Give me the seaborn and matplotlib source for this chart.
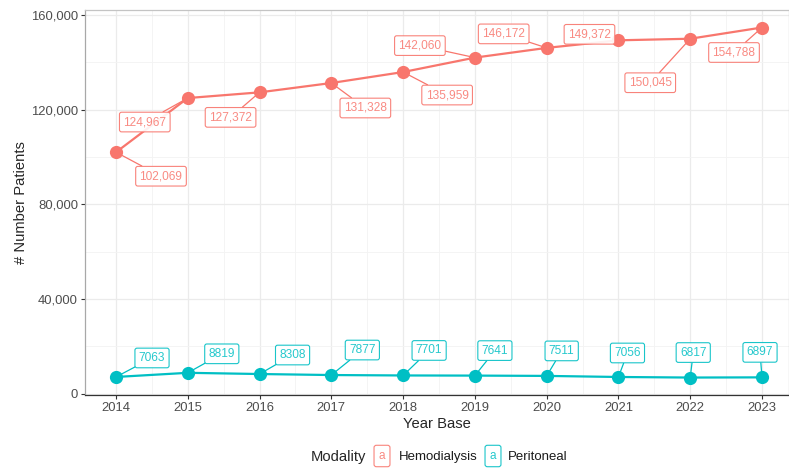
import pandas as pd
import matplotlib.pyplot as plt
import seaborn as sns
from matplotlib.ticker import FuncFormatter, MultipleLocator

# data
years = [2014, 2015, 2016, 2017, 2018, 2019, 2020, 2021, 2022, 2023]
hemodialysis = [102069, 124967, 127372, 131328, 135959, 142060, 146172, 149372, 150045, 154788]
peritoneal = [7063, 8819, 8308, 7877, 7701, 7641, 7511, 7056, 6817, 6897]
modalities = ["Hemodialysis", "Peritoneal"]

colors = {"Hemodialysis": "#F8766D", "Peritoneal": "#00BFC4"}

# label offsets (pixels) roughly like the repelled labels in the original
hemo_offsets = [(45, -24), (-43, -24), (-29, -25), (34, -25), (44, -23),
                (-55, 12), (-43, 14), (-29, 6), (-40, -44), (-28, -25)]
peri_offsets = [(36, 19), (34, 19), (33, 19), (31, 25), (26, 25),
                (20, 25), (15, 25), (9, 24), (3, 25), (-2, 25)]

df = pd.DataFrame({
    "year": years * 2,
    "patients": hemodialysis + peritoneal,
    "modality": ["Hemodialysis"] * len(years) + ["Peritoneal"] * len(years),
})

sns.set_theme(style="white")
plt.rcParams["font.family"] = ["Liberation Sans", "DejaVu Sans"]

fig = plt.figure(figsize=(7.89, 4.71), dpi=100)
ax = fig.add_axes([85 / 789, 76 / 471, 704 / 789, 385 / 471])

sns.lineplot(
    data=df, x="year", y="patients", hue="modality",
    palette=colors, marker="o", markersize=9.5, markeredgewidth=0,
    linewidth=1.6, legend=False, ax=ax, zorder=3,
)

# value labels
for mod, vals, offs in [("Hemodialysis", hemodialysis, hemo_offsets),
                        ("Peritoneal", peritoneal, peri_offsets)]:
    c = colors[mod]
    for yr, v, (dx, dy) in zip(years, vals, offs):
        txt = f"{v:,}" if mod == "Hemodialysis" else str(v)
        ax.annotate(
            txt, xy=(yr, v), xytext=(dx, dy), textcoords="offset pixels",
            ha="center", va="center", fontsize=8.6, color=c, alpha=0.85,
            bbox=dict(boxstyle="round,pad=0.32,rounding_size=0.18",
                      fc="white", ec=c, lw=0.8, alpha=0.9),
            arrowprops=dict(arrowstyle="-", color=c, lw=0.9, shrinkA=0, shrinkB=0),
            zorder=4,
        )

ax.set_xlim(2013.568, 2023.376)
ax.set_ylim(-560, 162186)
ax.xaxis.set_major_locator(MultipleLocator(1))
ax.xaxis.set_minor_locator(MultipleLocator(0.5))
ax.yaxis.set_major_locator(MultipleLocator(40000))
ax.yaxis.set_minor_locator(MultipleLocator(20000))
ax.yaxis.set_major_formatter(FuncFormatter(lambda v, p: f"{int(v):,}"))

ax.grid(which="major", color="#ebebeb", linewidth=0.9)
ax.grid(which="minor", color="#f3f3f3", linewidth=0.6)
ax.set_axisbelow(True)

ax.spines["top"].set_color("#c4c4c4")
ax.spines["right"].set_color("#c4c4c4")
ax.spines["left"].set_color("#a8a8a8")
ax.spines["bottom"].set_color("#333333")
for s in ax.spines.values():
    s.set_linewidth(0.9)

ax.tick_params(axis="both", which="major", length=3, width=0.8, color="#333333",
               labelsize=9.4, labelcolor="#4d4d4d", pad=2, bottom=True, left=True)
ax.tick_params(which="minor", length=0)

ax.set_xlabel("Year Base", fontsize=10.6, labelpad=2)
ax.set_ylabel("# Number Patients", fontsize=10.6, labelpad=2)

# legend at the bottom, ggplot style
fig.text(311 / 789, 1 - 457 / 471, "Modality", fontsize=10.6, ha="left", va="center")
key_x = [382, 493]
lab_x = [399, 508]
for mod, kx, lx in zip(modalities, key_x, lab_x):
    fig.text(kx / 789, 1 - 456 / 471, "a", fontsize=8.5, color=colors[mod], alpha=0.85,
             ha="center", va="center",
             bbox=dict(boxstyle="round,pad=0.4,rounding_size=0.2", fc="white",
                       ec=colors[mod], lw=0.8, alpha=0.9))
    fig.text(lx / 789, 1 - 457 / 471, mod, fontsize=9.5, ha="left", va="center",
             color="#1a1a1a")

fig.savefig("out.png", dpi=100)
